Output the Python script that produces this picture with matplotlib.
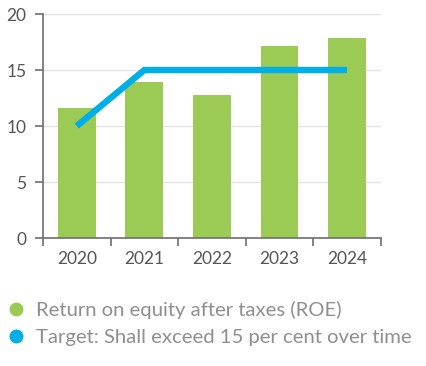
import numpy as np
import matplotlib
matplotlib.use("Agg")
import matplotlib.pyplot as plt
from matplotlib.lines import Line2D

years = ["2020", "2021", "2022", "2023", "2024"]
roe = [11.6, 13.9, 12.75, 17.15, 17.85]
target = [10, 15, 15, 15, 15]

green = "#9bcb55"
blue = "#00aee8"
grey = "#6e6e6e"

plt.rcParams["font.family"] = ["Lato", "DejaVu Sans"]

fig = plt.figure(figsize=(4.27, 3.66), dpi=100)
ax = fig.add_axes([0.1007, 0.3497, 0.7913, 0.612])

x = np.arange(len(years))
ax.bar(x, roe, width=0.56, color=green, zorder=2)
ax.plot(x, target, color=blue, lw=4.6, solid_capstyle="butt",
        solid_joinstyle="miter", zorder=3)

ax.set_xlim(-0.5, len(years) - 0.5)
ax.set_ylim(0, 20)
ax.set_yticks([0, 5, 10, 15, 20])
ax.yaxis.grid(True, color="#e3e3e3", lw=1, zorder=0)
ax.set_axisbelow(True)

# tick marks sit between categories, labels under the bars
ax.set_xticks(np.arange(len(years) + 1) - 0.5)
ax.set_xticklabels([])
ax.set_xticks(x, minor=True)
ax.set_xticklabels(years, minor=True)
ax.tick_params(axis="x", which="major", length=6, width=1.2, color=grey)
ax.tick_params(axis="x", which="minor", length=0, pad=9, labelsize=12.5, labelcolor="#555555")
ax.tick_params(axis="y", length=6, width=1.2, color=grey, pad=6, labelsize=12.5, labelcolor="#555555")

for s in ["top", "right"]:
    ax.spines[s].set_visible(False)
for s in ["left", "bottom"]:
    ax.spines[s].set_color(grey)
    ax.spines[s].set_linewidth(1.2)

handles = [
    Line2D([], [], ls="", marker="o", ms=9, color=green),
    Line2D([], [], ls="", marker="o", ms=9, color=blue),
]
labels = ["Return on equity after taxes (ROE)",
          "Target: Shall exceed 15 per cent over time"]
fig.legend(handles, labels, loc="upper left", bbox_to_anchor=(0.0, 0.2),
           frameon=False, handlelength=0.8, handletextpad=0.6,
           labelspacing=0.5, borderaxespad=0,
           prop={"size": 14.6}, labelcolor="#8f8f8f")

fig.savefig("out.png", dpi=100)
